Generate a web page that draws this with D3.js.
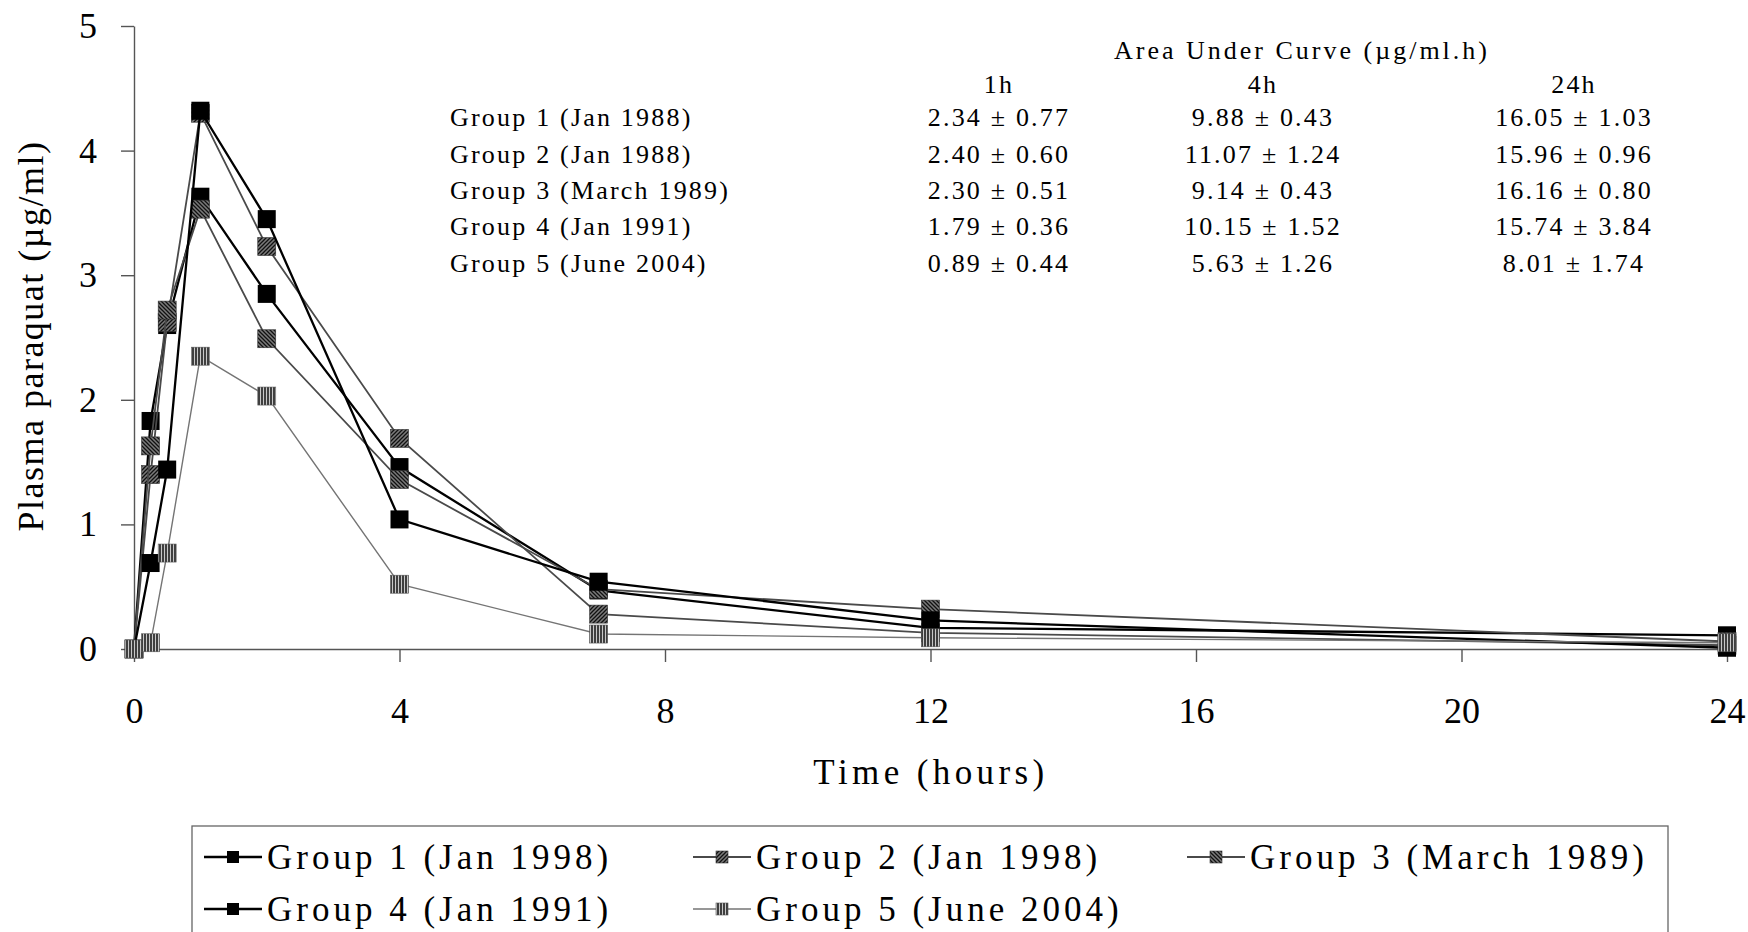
<!DOCTYPE html>
<html>
<head>
<meta charset="utf-8">
<script src="https://cdn.jsdelivr.net/npm/d3@7"></script>
<style>
  body { margin: 0; background: #fff; }
  svg { display: block; }
  text { font-family: "Liberation Serif", "Times New Roman", serif; fill: #000; }
</style>
</head>
<body>
<svg id="chart" width="1748" height="932"></svg>
<script>
// Sampling times (hours after dosing)
const times = [0, 0.25, 0.5, 1, 2, 4, 7, 12, 24];

// Mean plasma paraquat concentration (µg/ml) per group
const group1 = [0, 1.83, 2.60, 3.63, 2.85, 1.46, 0.47, 0.17, 0.11];
const group2 = [0, 1.40, 2.62, 4.30, 3.23, 1.69, 0.28, 0.13, 0.03];
const group3 = [0, 1.63, 2.72, 3.53, 2.49, 1.36, 0.48, 0.32, 0.06];
const group4 = [0, 0.69, 1.44, 4.32, 3.45, 1.04, 0.54, 0.23, 0.01];
const group5 = [0, 0.05, 0.77, 2.35, 2.03, 0.52, 0.12, 0.09, 0.05];

const seriesNames = [
  "Group 1 (Jan 1998)", "Group 2 (Jan 1998)", "Group 3 (March 1989)",
  "Group 4 (Jan 1991)", "Group 5 (June 2004)"
];

const xTicks = [0, 4, 8, 12, 16, 20, 24];
const yTicks = [0, 1, 2, 3, 4, 5];

// Area-under-curve table
const aucTitle = "Area Under Curve (\u00b5g/ml.h)";
const aucColumns = ["1h", "4h", "24h"];
const aucRowLabels = [
  "Group 1 (Jan 1988)", "Group 2 (Jan 1988)", "Group 3 (March 1989)",
  "Group 4 (Jan 1991)", "Group 5 (June 2004)"
];
const auc1h  = ["2.34 \u00b1 0.77", "2.40 \u00b1 0.60", "2.30 \u00b1 0.51", "1.79 \u00b1 0.36", "0.89 \u00b1 0.44"];
const auc4h  = ["9.88 \u00b1 0.43", "11.07 \u00b1 1.24", "9.14 \u00b1 0.43", "10.15 \u00b1 1.52", "5.63 \u00b1 1.26"];
const auc24h = ["16.05 \u00b1 1.03", "15.96 \u00b1 0.96", "16.16 \u00b1 0.80", "15.74 \u00b1 3.84", "8.01 \u00b1 1.74"];

// ---------------------------------------------------------------
const svg = d3.select("#chart");
svg.append("rect").attr("width", 1748).attr("height", 932).attr("fill", "#fff");

const defs = svg.append("defs");
// hatched fills for the grey markers
function hatch(id, bg, path, w, sw) {
  const p = defs.append("pattern").attr("id", id).attr("patternUnits", "userSpaceOnUse")
    .attr("width", w).attr("height", w);
  p.append("rect").attr("width", w).attr("height", w).attr("fill", bg);
  p.append("path").attr("d", path).attr("stroke", "#111").attr("stroke-width", sw).attr("fill", "none");
}
hatch("hatchA", "#7a7a7a", "M0,4 L4,0 M-1,1 L1,-1 M3,5 L5,3", 4, 1.3);
hatch("hatchB", "#7a7a7a", "M0,0 L4,4 M-1,3 L1,5 M3,-1 L5,1", 4, 1.3);
hatch("stripes", "#c8c8c8", "M1,0 L1,3", 3, 1.5);

const styles = [
  { stroke: "#000",    width: 2.3, fill: "#000",           mstroke: "#000", mw: 0 },
  { stroke: "#4a4a4a", width: 1.8, fill: "url(#hatchA)",   mstroke: "#333", mw: 0.6 },
  { stroke: "#4a4a4a", width: 1.8, fill: "url(#hatchB)",   mstroke: "#333", mw: 0.6 },
  { stroke: "#000",    width: 2.3, fill: "#000",           mstroke: "#000", mw: 0 },
  { stroke: "#747474", width: 1.4, fill: "url(#stripes)",  mstroke: "#555", mw: 0.6 }
];

const allSeries = [group1, group2, group3, group4, group5].map((vals, i) => ({
  name: seriesNames[i],
  style: styles[i],
  points: times.map((t, j) => ({ t, v: vals[j] }))
}));

const x = d3.scaleLinear().domain([0, 24]).range([134, 1727]);
const y = d3.scaleLinear().domain([0, 5]).range([649, 26]);

// axes
const axisColor = "#555";
const gx = svg.append("g").attr("transform", `translate(0,${y(0)})`)
  .call(d3.axisBottom(x).tickValues(xTicks).tickFormat(d3.format("d"))
    .tickSize(13).tickPadding(35).tickSizeOuter(0));
const gy = svg.append("g").attr("transform", `translate(${x(0)},0)`)
  .call(d3.axisLeft(y).tickValues(yTicks).tickFormat(d3.format("d"))
    .tickSize(13).tickPadding(24).tickSizeOuter(0));
[gx, gy].forEach(g => {
  g.attr("font-family", null);
  g.selectAll("path, line").attr("stroke", axisColor).attr("stroke-width", 1.4);
  g.selectAll("text").attr("font-size", 36).attr("fill", "#000");
});
gx.selectAll("text").attr("dy", "0.71em");

// axis titles
svg.append("text").attr("x", 931).attr("y", 772).attr("text-anchor", "middle")
  .attr("dominant-baseline", "central").attr("font-size", 35).attr("letter-spacing", 4.4)
  .text("Time (hours)");
svg.append("text").attr("transform", `translate(31,336) rotate(-90)`).attr("text-anchor", "middle")
  .attr("dominant-baseline", "central").attr("font-size", 36).attr("letter-spacing", 1.5)
  .text("Plasma paraquat (\u00b5g/ml)");

// series
const line = d3.line().x(d => x(d.t)).y(d => y(d.v));
const msize = 18;
allSeries.forEach(s => {
  const g = svg.append("g");
  g.append("path").datum(s.points).attr("d", line).attr("fill", "none")
    .attr("stroke", s.style.stroke).attr("stroke-width", s.style.width).attr("stroke-linejoin", "miter");
  g.selectAll("rect").data(s.points).join("rect")
    .attr("x", d => x(d.t) - msize / 2).attr("y", d => y(d.v) - msize / 2)
    .attr("width", msize).attr("height", msize)
    .attr("fill", s.style.fill).attr("stroke", s.style.mstroke).attr("stroke-width", s.style.mw);
});

// AUC table
const table = svg.append("g").attr("font-size", 26).attr("letter-spacing", 2.2);
const colX = [999, 1263, 1574];
const rowY = [117, 154, 190, 226, 263];
table.append("text").attr("x", 1302).attr("y", 50).attr("text-anchor", "middle")
  .attr("dominant-baseline", "central").attr("letter-spacing", 3).text(aucTitle);
table.selectAll("text.col").data(aucColumns).join("text").attr("class", "col")
  .attr("x", (d, i) => colX[i]).attr("y", 84).attr("text-anchor", "middle")
  .attr("dominant-baseline", "central").text(d => d);
table.selectAll("text.row").data(aucRowLabels).join("text").attr("class", "row")
  .attr("x", 450).attr("y", (d, i) => rowY[i]).attr("dominant-baseline", "central").text(d => d);
[auc1h, auc4h, auc24h].forEach((col, ci) => {
  table.selectAll(`text.c${ci}`).data(col).join("text").attr("class", `c${ci}`)
    .attr("x", colX[ci]).attr("y", (d, i) => rowY[i]).attr("text-anchor", "middle")
    .attr("dominant-baseline", "central").text(d => d);
});

// legend
const legend = svg.append("g");
legend.append("rect").attr("x", 192).attr("y", 826).attr("width", 1476).attr("height", 200)
  .attr("fill", "none").attr("stroke", "#666").attr("stroke-width", 1.3);
const legCols = [204, 693, 1187];
const legRows = [857, 909];
allSeries.forEach((s, i) => {
  const lx = legCols[i % 3], ly = legRows[Math.floor(i / 3)];
  const item = legend.append("g").attr("transform", `translate(${lx},${ly})`);
  item.append("line").attr("x1", 0).attr("x2", 58).attr("y1", 0).attr("y2", 0)
    .attr("stroke", s.style.stroke).attr("stroke-width", s.style.width);
  item.append("rect").attr("x", 29 - 6).attr("y", -6).attr("width", 12).attr("height", 12)
    .attr("fill", s.style.fill).attr("stroke", s.style.mstroke).attr("stroke-width", s.style.mw);
  item.append("text").attr("x", 63).attr("y", 0).attr("dominant-baseline", "central")
    .attr("font-size", 35).attr("letter-spacing", 4).text(s.name);
});
</script>
</body>
</html>
